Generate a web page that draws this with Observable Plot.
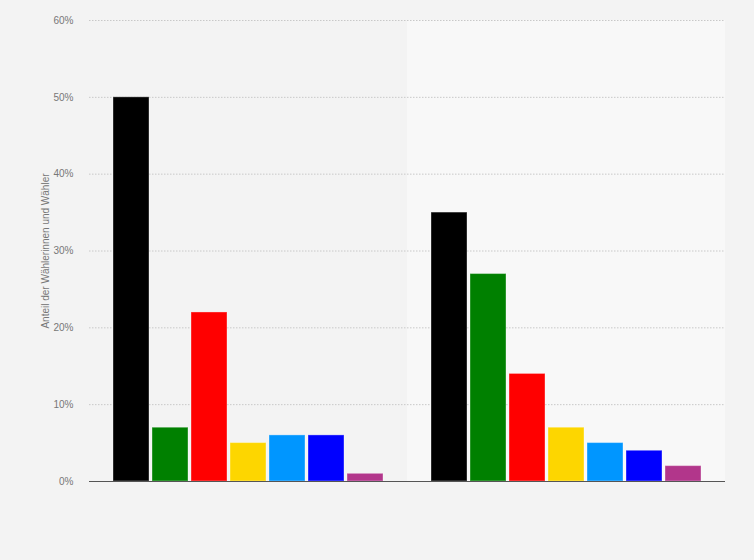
<!DOCTYPE html>
<html>
<head>
<meta charset="utf-8">
<script src="https://cdn.jsdelivr.net/npm/d3@7"></script>
<script src="https://cdn.jsdelivr.net/npm/@observablehq/plot@0.6"></script>
<style>
  html, body { margin: 0; padding: 0; background: #f3f3f3; }
  #chart { width: 754px; height: 560px; }
</style>
</head>
<body>
<div id="chart"></div>
<script>
const groups = ["Gruppe 1", "Gruppe 2"];
const parties = ["CSU", "Grüne", "SPD", "FDP", "AfD", "Freie Wähler", "Linke"];
const colors = ["#000000", "#008000", "#ff0000", "#fdd600", "#0096ff", "#0000ff", "#b2368b"];
const values1 = [50, 7, 22, 5, 6, 6, 1];
const values2 = [35, 27, 14, 7, 5, 4, 2];
const yTicks = [0, 10, 20, 30, 40, 50, 60];

const data = [];
parties.forEach((p, i) => {
  data.push({group: groups[0], party: p, value: values1[i]});
  data.push({group: groups[1], party: p, value: values2[i]});
});

const chart = Plot.plot({
  width: 754,
  height: 560,
  marginTop: 20,
  marginBottom: 79,
  marginLeft: 88,
  marginRight: 29,
  style: {background: "#f3f3f3", fontFamily: "'Liberation Sans', Arial, sans-serif", fontSize: "10px"},
  fx: {domain: groups, padding: 0, axis: null},
  x: {domain: parties, paddingInner: 0.08, paddingOuter: 0.6, axis: null},
  y: {domain: [0, 60]},
  color: {domain: parties, range: colors},
  marks: [
    Plot.barY([{group: groups[1]}], {fx: "group", y1: 0, y2: 60, fill: "#f8f8f8", inset: 0}),
    Plot.gridY(yTicks, {stroke: "#c8c8c8", strokeOpacity: 1, strokeDasharray: "1.5,1.5"}),
    Plot.axisY(yTicks, {
      tickSize: 0, tickPadding: 16, tickFormat: d => d + "%",
      fill: "#777", label: "Anteil der Wählerinnen und Wähler",
      labelAnchor: "center", labelArrow: "none", labelOffset: 48
    }),
    Plot.barY(data, {fx: "group", x: "party", y: "value", fill: "party", stroke: "white", strokeOpacity: 0.35, strokeWidth: 1}),
    Plot.ruleY([0], {stroke: "#555", strokeWidth: 1.2})
  ]
});
document.getElementById("chart").appendChild(chart);
</script>
</body>
</html>
